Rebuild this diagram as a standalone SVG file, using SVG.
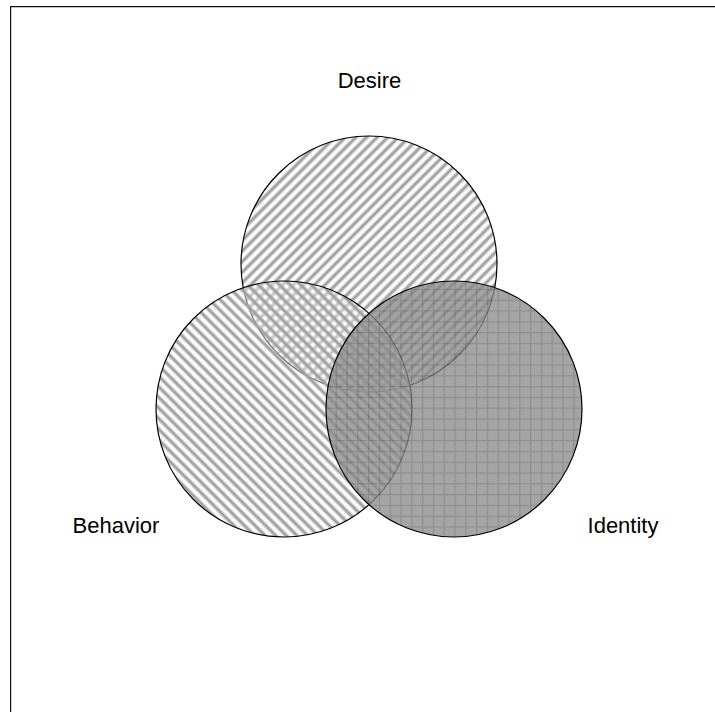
<svg xmlns="http://www.w3.org/2000/svg" width="715" height="712" viewBox="0 0 715 712">
<style>
.lbl{font-family:"Liberation Sans",Arial,sans-serif;font-size:22px;fill:#000;text-anchor:middle}
.ring{stroke:#000;stroke-width:1.2}
</style>
<defs>
<linearGradient id="gStripe" x1="0" y1="0" x2="0" y2="1">
<stop offset="0" stop-color="#a0a0a0" stop-opacity="0"/>
<stop offset="0.14" stop-color="#a0a0a0" stop-opacity="0"/>
<stop offset="0.42" stop-color="#a0a0a0" stop-opacity="1"/>
<stop offset="0.58" stop-color="#a0a0a0" stop-opacity="1"/>
<stop offset="0.86" stop-color="#a0a0a0" stop-opacity="0"/>
<stop offset="1" stop-color="#a0a0a0" stop-opacity="0"/>
</linearGradient>
<pattern id="pDesire" width="7.5" height="7.5" patternUnits="userSpaceOnUse" patternTransform="rotate(-45)">
<rect width="7.5" height="7.5" fill="#fff"/>
<rect width="7.5" height="7.5" fill="url(#gStripe)"/>
</pattern>
<pattern id="pBehavior" width="7.5" height="7.5" patternUnits="userSpaceOnUse" patternTransform="rotate(45)">
<rect width="7.5" height="7.5" fill="#fff" fill-opacity="0.45"/>
<rect width="7.5" height="7.5" fill="url(#gStripe)"/>
</pattern>
<pattern id="pIdentity" x="422" y="332" width="10.8" height="10.8" patternUnits="userSpaceOnUse">
<rect width="10.8" height="10.8" fill="#8c8c8c"/>
<rect width="1.3" height="10.8" fill="#707070"/>
<rect width="10.8" height="1.3" fill="#707070"/>
</pattern>
</defs>
<g id="frame" fill="none" stroke="#111">
<line x1="10" y1="6.6" x2="715" y2="6.6" stroke-width="1.4"/>
<line x1="10.6" y1="6" x2="10.6" y2="712" stroke-width="1.2"/>
</g>
<g id="connectors"></g>
<g id="desire">
<circle class="ring" cx="369" cy="264" r="128" fill="url(#pDesire)"/>
<text class="lbl" x="369.5" y="88">Desire</text>
</g>
<g id="behavior">
<circle class="ring" cx="284" cy="409" r="128" fill="url(#pBehavior)"/>
<text class="lbl" x="116" y="533">Behavior</text>
</g>
<g id="identity">
<circle class="ring" cx="454" cy="409" r="128" fill="url(#pIdentity)" fill-opacity="0.78"/>
<text class="lbl" x="623" y="533">Identity</text>
</g>
</svg>
